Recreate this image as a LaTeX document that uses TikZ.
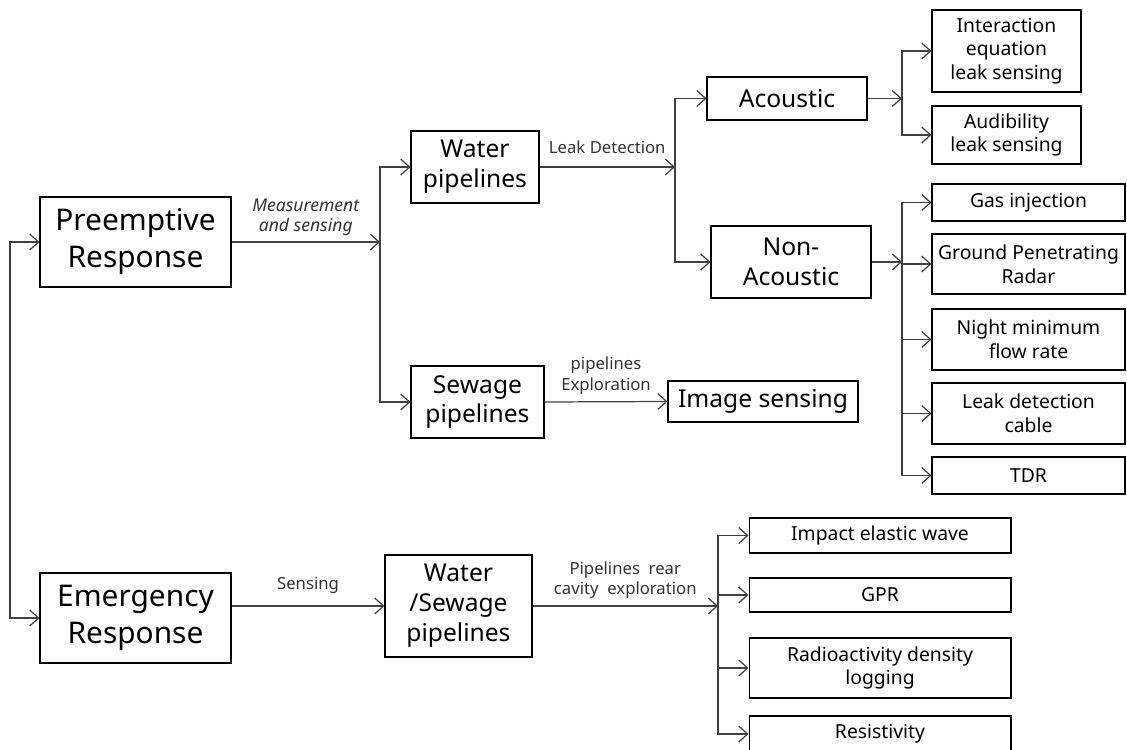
\documentclass[tikz,border=0pt]{standalone}
\usepackage{fontspec}
\setmainfont{Noto Sans}
\usetikzlibrary{arrows.meta,positioning,calc}

\begin{document}
\begin{tikzpicture}[x=0.02cm, y=-0.02cm,
  block/.style={draw=black, line width=0.6pt, align=center, inner sep=1pt,
    font=\fontsize{14}{17}\selectfont},
  big/.style={block, minimum width=3.82cm, minimum height=1.8cm,
    font=\fontsize{17}{21}\selectfont},
  leaf/.style={block, font=\fontsize{11}{13.5}\selectfont},
  arr/.style={-{Straight Barb[length=5pt,width=9pt]}, line width=0.7pt, color=black!75},
  lbl/.style={font=\fontsize{9.5}{11.5}\selectfont, color=black!80, align=center, inner sep=1pt}
]
\useasboundingbox (0,0) rectangle (1127,750);

% Top level
\node[big] (pre) at (135.5,242) {Preemptive\\Response};
\node[big] (eme) at (135.5,618) {Emergency\\Response};
\coordinate (jleft) at (10,430);
\draw[arr] (jleft) |- (pre.west);
\draw[arr] (jleft) |- (eme.west);

% Preemptive branch
\node[block, minimum width=2.56cm, minimum height=1.44cm] (water) at (475,167) {Water\\pipelines};
\node[block, minimum width=2.66cm, minimum height=1.44cm] (sewage) at (477.5,402) {Sewage\\pipelines};
\coordinate (jmeas) at (380,242);
\draw[arr] (pre.east) -- node[lbl, above=2pt, font=\fontsize{10}{11.5}\selectfont\itshape]{Measurement\\and sensing} (jmeas);
\draw[arr] (jmeas) |- (water.west);
\draw[arr] (jmeas) |- (sewage.west);

% Leak detection
\node[block, minimum width=3.2cm, minimum height=0.86cm] (acoustic) at (787,98.5) {Acoustic};
\node[block, minimum width=3.2cm, minimum height=1.44cm] (nonac) at (791,262) {Non-\\Acoustic};
\coordinate (jleak) at (675,167);
\draw[arr] (water.east) -- node[lbl, above=6pt]{Leak Detection} (jleak);
\draw[arr] (jleak) |- (acoustic.west);
\draw[arr] (jleak) |- (nonac.west);

% Acoustic methods
\node[leaf, minimum width=2.98cm, minimum height=1.64cm] (interact) at (1006.5,51) {Interaction\\equation\\leak sensing};
\node[leaf, minimum width=2.98cm, minimum height=1.16cm] (audib) at (1006.5,135) {Audibility\\leak sensing};
\coordinate (jac) at (902,98.5);
\draw[arr] (acoustic.east) -- (jac);
\draw[arr] (jac) |- (interact.west);
\draw[arr] (jac) |- (audib.west);

% Non-acoustic methods
\node[leaf, minimum width=3.86cm, minimum height=0.74cm] (gas) at (1028.5,202.5) {Gas injection};
\node[leaf, minimum width=3.86cm, minimum height=1.2cm] (gpr) at (1028.5,264) {Ground Penetrating\\Radar};
\node[leaf, minimum width=3.86cm, minimum height=1.22cm] (night) at (1028.5,339.5) {Night minimum\\flow rate};
\node[leaf, minimum width=3.86cm, minimum height=1.22cm] (cable) at (1028.5,413.5) {Leak detection\\cable};
\node[leaf, minimum width=3.86cm, minimum height=0.74cm] (tdr) at (1028.5,475.5) {TDR};
\coordinate (jnon) at (902,262);
\draw[arr] (nonac.east) -- (jnon);
\foreach \m in {gas,gpr,night,cable,tdr}
  \draw[arr] (jnon) |- (\m.west);

% Sewage exploration
\node[block, minimum width=3.8cm, minimum height=0.82cm] (image) at (763,401.5) {Image sensing};
\draw[arr] (sewage.east) -- node[lbl, above=3pt]{pipelines\\Exploration} (image.west);

% Emergency branch
\node[block, minimum width=2.94cm, minimum height=2.04cm] (ws) at (458.5,606) {Water\\/Sewage\\pipelines};
\draw[arr] (eme.east |- ws.west) -- node[lbl, above=6pt]{Sensing} (ws.west);

% Cavity exploration methods
\node[leaf, minimum width=5.24cm, minimum height=0.7cm] (impact) at (880,535.5) {Impact elastic wave};
\node[leaf, minimum width=5.24cm, minimum height=0.68cm] (gpr2) at (880,595) {GPR};
\node[leaf, minimum width=5.24cm, minimum height=1.2cm] (radio) at (880,668) {Radioactivity density\\logging};
\node[leaf, minimum width=5.24cm, minimum height=0.72cm] (resist) at (880,734) {Resistivity};
\coordinate (jcav) at (718,606);
\draw[arr] (ws.east) -- node[lbl, above=3pt]{Pipelines~ rear\\cavity~ exploration} (jcav);
\foreach \m in {impact,gpr2,radio,resist}
  \draw[arr] (jcav) |- (\m.west);
\end{tikzpicture}
\end{document}
